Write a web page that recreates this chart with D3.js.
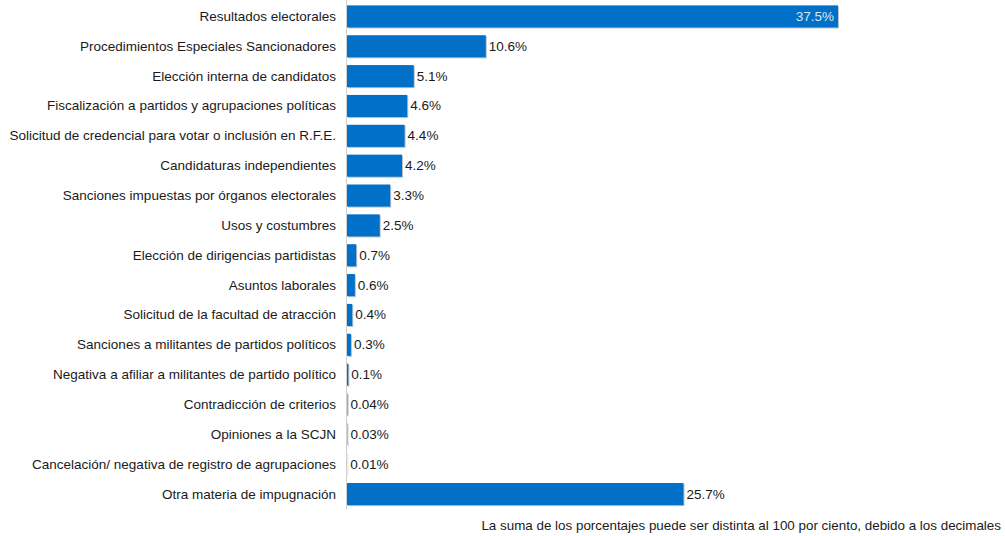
<!DOCTYPE html>
<html>
<head>
<meta charset="utf-8">
<script src="https://cdn.jsdelivr.net/npm/d3@7"></script>
<style>
  body { margin: 0; background: #fff; }
  svg text { font-family: "Liberation Sans", Arial, sans-serif; }
</style>
</head>
<body>
<div id="chart"></div>
<script>
(function () {
    'use strict';

    var categories = [
        "Resultados electorales",
        "Procedimientos Especiales Sancionadores",
        "Elección interna de candidatos",
        "Fiscalización a partidos y agrupaciones políticas",
        "Solicitud de credencial para votar o inclusión en R.F.E.",
        "Candidaturas independientes",
        "Sanciones impuestas por órganos electorales",
        "Usos y costumbres",
        "Elección de dirigencias partidistas",
        "Asuntos laborales",
        "Solicitud de la facultad de atracción",
        "Sanciones a militantes de partidos políticos",
        "Negativa a afiliar a militantes de partido político",
        "Contradicción de criterios",
        "Opiniones a la SCJN",
        "Cancelación/ negativa de registro de agrupaciones",
        "Otra materia de impugnación"
    ];
    var values = [37.5, 10.6, 5.1, 4.6, 4.4, 4.2, 3.3, 2.5, 0.7, 0.6, 0.4, 0.3, 0.1, 0.04, 0.03, 0.01, 25.7];
    var valueLabels = ["37.5%", "10.6%", "5.1%", "4.6%", "4.4%", "4.2%", "3.3%", "2.5%", "0.7%", "0.6%", "0.4%", "0.3%", "0.1%", "0.04%", "0.03%", "0.01%", "25.7%"];
    var note = "La suma de los porcentajes puede ser distinta al 100 por ciento, debido a los decimales";

    var width = 1005;
    var height = 536;
    var left = 347;

    var data = categories.map(function (c, i) {
        return { cat: c, value: values[i], label: valueLabels[i] };
    });

    var x = d3.scaleLinear()
        .domain([0, 37.5])
        .range([left, 838]);

    var y = d3.scaleBand()
        .domain(categories)
        .range([1.5, 509])
        .paddingInner(0.26)
        .paddingOuter(0.13);

    var svg = d3.select("#chart").append("svg")
        .attr("width", width)
        .attr("height", height);

    // shadow under bars
    svg.append("g")
        .selectAll("rect")
        .data(data)
        .enter().append("rect")
        .attr("x", left + 1)
        .attr("y", function (d) { return y(d.cat) + 1; })
        .attr("width", function (d) { return Math.max(0, x(d.value) - left); })
        .attr("height", y.bandwidth())
        .attr("fill", "#b9c3cc");

    svg.append("g")
        .selectAll("rect")
        .data(data)
        .enter().append("rect")
        .attr("x", left)
        .attr("y", function (d) { return y(d.cat); })
        .attr("width", function (d) { return Math.max(0, x(d.value) - left); })
        .attr("height", y.bandwidth())
        .attr("fill", "#0070c8");

    // axis line
    svg.append("line")
        .attr("x1", left - 0.5).attr("x2", left - 0.5)
        .attr("y1", 0).attr("y2", 509)
        .attr("stroke", "#d0d0d0")
        .attr("stroke-width", 1);

    // category labels
    svg.append("g")
        .selectAll("text")
        .data(data)
        .enter().append("text")
        .attr("x", 336)
        .attr("y", function (d) { return y(d.cat) + y.bandwidth() / 2; })
        .attr("text-anchor", "end")
        .attr("dominant-baseline", "central")
        .attr("font-size", "13.5px")
        .attr("fill", "#1a1a1a")
        .text(function (d) { return d.cat; });

    // value labels
    svg.append("g")
        .selectAll("text")
        .data(data)
        .enter().append("text")
        .attr("x", function (d, i) { return i === 0 ? x(d.value) - 4 : x(d.value) + 3; })
        .attr("y", function (d) { return y(d.cat) + y.bandwidth() / 2; })
        .attr("text-anchor", function (d, i) { return i === 0 ? "end" : "start"; })
        .attr("dominant-baseline", "central")
        .attr("font-size", "13.5px")
        .attr("fill", function (d, i) { return i === 0 ? "#dde6f0" : "#1a1a1a"; })
        .text(function (d) { return d.label; });

    svg.append("text")
        .attr("x", 1001)
        .attr("y", 525)
        .attr("text-anchor", "end")
        .attr("dominant-baseline", "central")
        .attr("font-size", "13.4px")
        .attr("fill", "#1a1a1a")
        .text(note);
})();
</script>
</body>
</html>
